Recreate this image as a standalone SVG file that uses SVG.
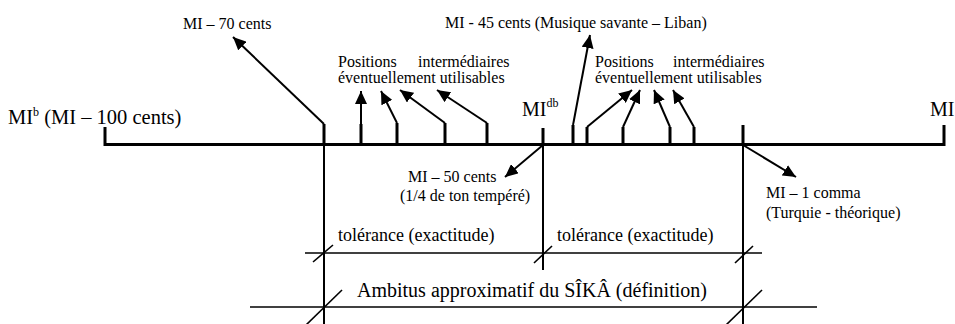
<svg xmlns="http://www.w3.org/2000/svg" width="955" height="324" viewBox="0 0 955 324">
<defs>
<marker id="ah" markerUnits="userSpaceOnUse" markerWidth="14" markerHeight="12" refX="13" refY="6" orient="auto">
<path d="M0,0 L13,6 L0,12 Z" fill="#000"/>
</marker>
<style>
text{font-family:"Liberation Serif","Times New Roman",serif;fill:#000}
.s{font-size:16px}
.m{font-size:18px}
.l{font-size:20px}
.thick{stroke:#000;stroke-width:3;fill:none}
.tick{stroke:#000;stroke-width:3;fill:none}
.arr{stroke:#000;stroke-width:2;fill:none;marker-end:url(#ah)}
.thin{stroke:#000;stroke-width:1.6;fill:none}
.vert{stroke:#000;stroke-width:2;fill:none}
</style>
</defs>
<rect width="955" height="324" fill="#fff"/>
<g id="connectors">
<path class="thick" d="M105,127 L105,144.5 L944,144.5 L944,125"/>
<line class="vert" x1="324" y1="124" x2="324" y2="324"/>
<line class="vert" x1="543" y1="128" x2="543" y2="270"/>
<line class="vert" x1="743" y1="125" x2="743" y2="324"/>
<line class="tick" x1="324" y1="124" x2="324" y2="145"/>
<line class="tick" x1="543" y1="128" x2="543" y2="145"/>
<line class="tick" x1="743" y1="125" x2="743" y2="145"/>
<line class="arr" x1="324" y1="124" x2="233" y2="37"/>
<line class="tick" x1="361" y1="124" x2="361" y2="145"/>
<line class="arr" x1="361" y1="124" x2="361" y2="91"/>
<line class="tick" x1="397" y1="123" x2="397" y2="145"/>
<line class="arr" x1="397" y1="123" x2="381" y2="91"/>
<line class="tick" x1="445" y1="123" x2="445" y2="145"/>
<line class="arr" x1="445" y1="123" x2="400" y2="90"/>
<line class="tick" x1="487" y1="123" x2="487" y2="145"/>
<line class="arr" x1="487" y1="123" x2="437" y2="90"/>
<line class="tick" x1="573" y1="125" x2="573" y2="145"/>
<line class="arr" x1="573" y1="125" x2="590" y2="35"/>
<line class="tick" x1="587" y1="127" x2="587" y2="145"/>
<line class="arr" x1="587" y1="127" x2="632" y2="90"/>
<line class="tick" x1="623" y1="127" x2="623" y2="145"/>
<line class="arr" x1="623" y1="127" x2="640" y2="90"/>
<line class="tick" x1="670" y1="127" x2="670" y2="145"/>
<line class="arr" x1="670" y1="127" x2="654" y2="90"/>
<line class="tick" x1="694" y1="127" x2="694" y2="145"/>
<line class="arr" x1="694" y1="127" x2="673" y2="90"/>
<line class="arr" x1="543" y1="145" x2="505" y2="177"/>
<line class="arr" x1="743" y1="145" x2="796" y2="177"/>
<line class="thin" x1="305" y1="253" x2="762" y2="253"/>
<line class="thin" x1="313" y1="262" x2="333" y2="245"/>
<line class="thin" x1="534" y1="263" x2="552" y2="246"/>
<line class="thin" x1="735" y1="263" x2="753" y2="246"/>
<line class="thin" x1="250" y1="307" x2="817" y2="307"/>
<line class="thin" x1="305" y1="326" x2="342" y2="290"/>
<line class="thin" x1="725" y1="326" x2="762" y2="290"/>
</g>
<g id="label-mib"><text class="l" x="8" y="124" style="font-size:20.5px">MI<tspan font-size="12" dy="-8">b</tspan><tspan dy="8"> (MI – 100 cents)</tspan></text></g>
<g id="label-mi70"><text class="s" x="183" y="29">MI – 70 cents</text></g>
<g id="label-mi45"><text class="s" x="445" y="28">MI - 45 cents (Musique savante – Liban)</text></g>
<g id="label-positions-left">
<text class="s" x="338" y="67">Positions</text>
<text class="s" x="418" y="67">intermédiaires</text>
<text class="s" x="338" y="83">éventuellement utilisables</text>
</g>
<g id="label-positions-right">
<text class="s" x="595" y="67">Positions</text>
<text class="s" x="673" y="67">intermédiaires</text>
<text class="s" x="595" y="83">éventuellement utilisables</text>
</g>
<g id="label-midb"><text class="l" x="522" y="116">MI<tspan font-size="12" dy="-9">db</tspan></text></g>
<g id="label-mi"><text class="l" x="930" y="116">MI</text></g>
<g id="label-mi50">
<text class="s" x="408" y="182">MI – 50 cents</text>
<text class="s" x="400" y="201">(1/4 de ton tempéré)</text>
</g>
<g id="label-mi1comma">
<text class="s" x="766" y="198">MI – 1 comma</text>
<text class="s" x="766" y="218">(Turquie - théorique)</text>
</g>
<g id="label-tolerance-1"><text class="m" x="338" y="241">tolérance (exactitude)</text></g>
<g id="label-tolerance-2"><text class="m" x="557" y="241">tolérance (exactitude)</text></g>
<g id="label-ambitus"><text class="l" x="357" y="297">Ambitus approximatif du SÎKÂ (définition)</text></g>
</svg>
